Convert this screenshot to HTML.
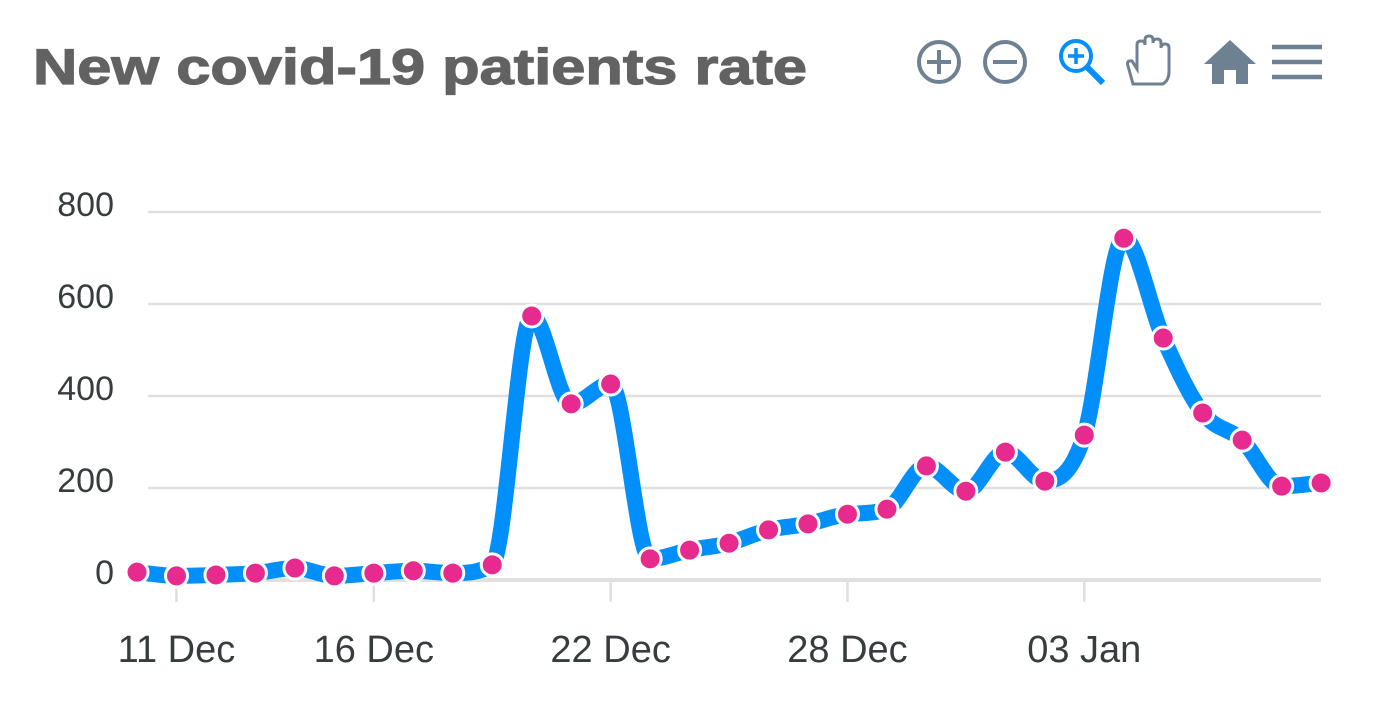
<!DOCTYPE html>
<html><head><meta charset="utf-8"><style>
html,body{margin:0;padding:0;background:#fff;width:1380px;height:704px;overflow:hidden;font-family:"Liberation Sans",sans-serif}
</style></head><body>
<svg id="chart" width="1380" height="704" xmlns="http://www.w3.org/2000/svg">
<text x="33" y="84" font-size="50" font-weight="bold" fill="#626262" stroke="#626262" stroke-width="1.2" textLength="774" lengthAdjust="spacingAndGlyphs" font-family="Liberation Sans, sans-serif">New covid-19 patients rate</text>
<g fill="none" stroke="#6E8192" stroke-width="4">
 <g><circle cx="939" cy="62" r="20"/><path d="M927 62h24M939 50v24"/></g>
 <g><circle cx="1005" cy="62" r="20"/><path d="M993 62h24"/></g>
 <g stroke="#008FFB"><circle cx="1076" cy="56" r="15"/><path d="M1068 56h16M1076 48v16" stroke-width="3.5"/><path d="M1087 67l16 16" stroke-width="6"/></g>
 <g stroke-width="3"><path d="M1133 84 L1128 66 q-2 -6 4 -5 l5 8 V45 q0 -4 4 -4 q4 0 4 4 V40 q0 -4 4 -4 q4 0 4 4 v3 q0 -4 4 -4 q4 0 4 4 v5 q0 -4 4 -4 q4 0 4 4 V72 q0 8 -6 12 Z"/></g>
 <g stroke="none" fill="#6E8192"><path d="M1230 40 L1256 64 H1248 V84 H1236 V70 H1224 V84 H1212 V64 H1204 Z"/></g>
 <g stroke-width="4.5"><path d="M1272 47h50M1272 62h50M1272 77h50"/></g>
</g>
<g id="grid"></g><g id="xaxis"></g><g id="series"></g>
</svg>
<script>
const dates=["10 Dec","11 Dec","12 Dec","13 Dec","14 Dec","15 Dec","16 Dec","17 Dec","18 Dec","19 Dec","20 Dec","21 Dec","22 Dec","23 Dec","24 Dec","25 Dec","26 Dec","27 Dec","28 Dec","29 Dec","30 Dec","31 Dec","01 Jan","02 Jan","03 Jan","04 Jan","05 Jan","06 Jan","07 Jan","08 Jan","09 Jan"];
const values=[17,9,11,15,26,9,15,20,15,33,574,383,426,46,65,80,109,122,143,154,248,193,278,215,315,743,526,363,304,204,211];
const yTicks=[0,200,400,600,800];
const xTickLabels=["11 Dec","16 Dec","22 Dec","28 Dec","03 Jan"];
const NS="http://www.w3.org/2000/svg";
const x0=137,dx=39.47,yBase=580,ppu=0.46;
const X=i=>x0+i*dx, Y=v=>yBase-v*ppu;
function mk(t,a,p){const e=document.createElementNS(NS,t);for(const k in a)e.setAttribute(k,a[k]);p.appendChild(e);return e;}
const grid=document.getElementById('grid'),xa=document.getElementById('xaxis'),se=document.getElementById('series');
yTicks.forEach(v=>{
 const l=mk('line',{x1:148,x2:1321,y1:Y(v),y2:Y(v),stroke:'#e0e0e0','stroke-width':v===0?4:2.5},grid);
 
 
 const t=mk('text',{x:114,y:Y(v)+4,'text-anchor':'end','font-size':34,fill:'#373d3f'},grid);
 t.textContent=v;
 
 
});
xTickLabels.forEach(lab=>{
 const i=dates.indexOf(lab);
 const tk=mk('line',{x1:X(i),x2:X(i),y1:582,y2:602,stroke:'#e0e0e0','stroke-width':2.5},xa);
 
 
 const t=mk('text',{x:X(i),y:662,'text-anchor':'middle','font-size':38,fill:'#373d3f'},xa);
 t.textContent=lab;
 
 
});
const pts=values.map((v,i)=>[X(i),Y(v)]);
// monotone cubic interpolation (Fritsch-Carlson)
const n=pts.length, s=[], m=[];
for(let i=0;i<n-1;i++) s.push((pts[i+1][1]-pts[i][1])/(pts[i+1][0]-pts[i][0]));
for(let i=0;i<n;i++){
 if(i===0) m.push(s[0]); else if(i===n-1) m.push(s[n-2]);
 else m.push(s[i-1]*s[i]<=0?0:(s[i-1]+s[i])/2);
}
for(let i=0;i<n-1;i++){
 if(s[i]===0){m[i]=0;m[i+1]=0;continue;}
 const a=m[i]/s[i], b=m[i+1]/s[i], h=a*a+b*b;
 if(h>9){const t=3/Math.sqrt(h);m[i]=t*a*s[i];m[i+1]=t*b*s[i];}
}
let d='M'+pts[0][0]+' '+pts[0][1];
for(let i=0;i<n-1;i++){
 const h=(pts[i+1][0]-pts[i][0])/3;
 d+=` C${pts[i][0]+h} ${pts[i][1]+m[i]*h} ${pts[i+1][0]-h} ${pts[i+1][1]-m[i+1]*h} ${pts[i+1][0]} ${pts[i+1][1]}`;
}
const line=mk('path',{d:d,fill:'none',stroke:'#008FFB','stroke-width':16,'stroke-linejoin':'round'},se);


pts.forEach(p=>{
 const c=mk('circle',{cx:p[0],cy:p[1],r:11,fill:'#E62A8E',stroke:'#fff','stroke-width':3},se);
 
 
});
</script>
</body></html>
